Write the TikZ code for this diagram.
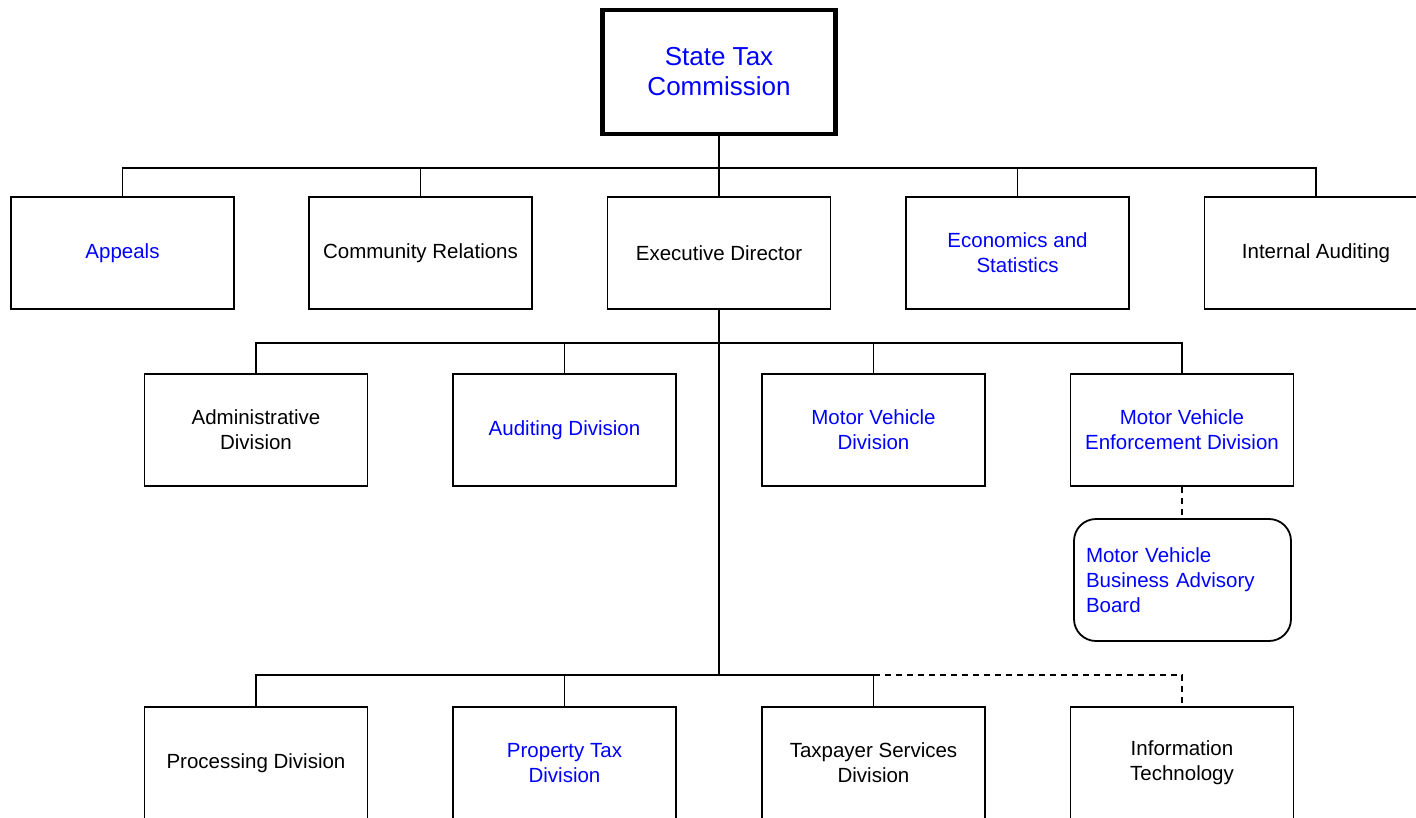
\documentclass[tikz,border=0pt]{standalone}
\usepackage{fontspec}
\setmainfont{Liberation Sans}
\definecolor{tblue}{RGB}{0,0,255}
\begin{document}
\begin{tikzpicture}[x=1pt,y=-1pt,
  box/.style={draw, line width=1.8pt, minimum width=223pt, minimum height=112pt, inner sep=2pt, align=center, font=\fontsize{20.5}{25}\selectfont},
  bluetext/.style={text=tblue},
  topbox/.style={draw, line width=4.5pt, minimum width=233pt, minimum height=124pt, inner sep=2pt, align=center, text=tblue, font=\fontsize{26}{30}\selectfont},
  roundbox/.style={draw, line width=1.8pt, rounded corners=22pt, minimum width=217pt, minimum height=122pt, text width=193pt, inner sep=12pt, align=left, text=tblue, font=\fontsize{20.5}{25}\selectfont},
  conn/.style={line width=1.8pt},
  dconn/.style={line width=1.8pt, dash pattern=on 6pt off 5pt}]
\useasboundingbox (0,0) rectangle (1416,817);
\node[topbox] (stc) at (719,72) {State Tax\\Commission};
\node[box,bluetext] (app) at (122.5,253) {Appeals};
\node[box] (com) at (420.5,253) {Community Relations};
\node[box] (exe) at (719,253) {Executive Director};
\node[box,bluetext] (eco) at (1017.5,253) {Economics and\\Statistics};
\node[box] (int) at (1316,253) {Internal Auditing};
\node[box] (adm) at (256,430) {Administrative\\Division};
\node[box,bluetext] (aud) at (564.5,430) {Auditing Division};
\node[box,bluetext] (mvd) at (873.5,430) {Motor Vehicle\\Division};
\node[box,bluetext] (mve) at (1182,430) {Motor Vehicle\\Enforcement Division};
\node[roundbox] (mvb) at (1182.5,580) {Motor Vehicle\\Business Advisory\\Board};
\node[box] (pro) at (256,763) {Processing Division};
\node[box,bluetext] (ptx) at (564.5,763) {Property Tax\\Division};
\node[box] (tps) at (873.5,763) {Taxpayer Services\\Division};
\node[box] (itd) at (1182,763) {Information\\Technology};
\coordinate (b1) at (719,168);
\coordinate (b2) at (719,343);
\coordinate (b3) at (719,675);
\draw[conn] (stc.south) -- (exe.north);
\draw[conn] (app.north) |- (b1) -| (int.north);
\draw[conn] (com.north) -- (com.north |- b1);
\draw[conn] (eco.north) -- (eco.north |- b1);
\draw[conn] (exe.south) -- (b3);
\draw[conn] (adm.north) |- (b2) -| (mve.north);
\draw[conn] (aud.north) -- (aud.north |- b2);
\draw[conn] (mvd.north) -- (mvd.north |- b2);
\draw[conn] (pro.north) |- (b3) -| (tps.north);
\draw[conn] (ptx.north) -- (ptx.north |- b3);
\draw[dconn] (tps.north |- b3) -| (itd.north);
\draw[dconn] (mve.south) -- (mve.south |- mvb.north);
\end{tikzpicture}
\end{document}
